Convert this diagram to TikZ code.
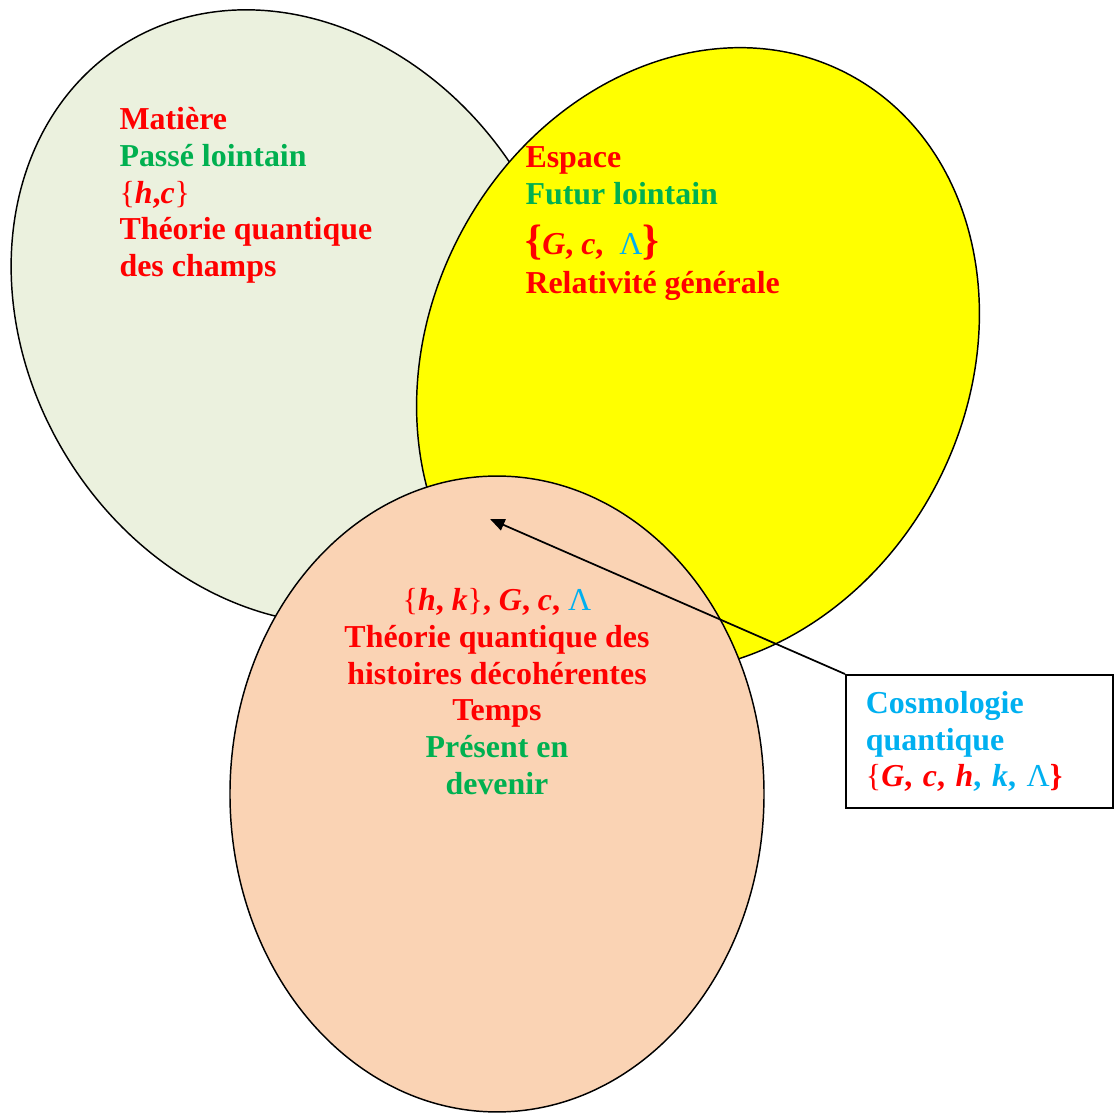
\documentclass[tikz,border=0pt]{standalone}
\usepackage{fontspec}
\setmainfont{Liberation Serif}
\usetikzlibrary{positioning,shapes.geometric,arrows.meta}
\definecolor{rouge}{HTML}{FF0000}
\definecolor{vert}{HTML}{00B050}
\definecolor{bleu}{HTML}{00B0F0}
\definecolor{jaune}{RGB}{255,255,0}
\definecolor{vertpale}{HTML}{EBF1DE}
\definecolor{peche}{HTML}{FAD3B4}

\begin{document}
\begin{tikzpicture}[
        x=0.376pt, y=-0.376pt,
        zone/.style={ellipse, draw, line width=0.55pt, inner sep=0pt},
        texte/.style={font=\fontsize{12}{13.8}\selectfont\bfseries, inner sep=0pt},
        boite/.style={draw, fill=white, line width=0.75pt, text width=85.4pt, minimum height=50pt, inner xsep=7.5pt, align=left, font=\fontsize{12}{13.8}\selectfont\bfseries},
        fleche/.style={-{Triangle[length=5.5pt,width=4.5pt]}, line width=0.65pt}
    ]
        \useasboundingbox (0,0) rectangle (1118,1113);

        % Ellipses
        \node[zone, fill=vertpale, minimum width=241.4pt, minimum height=200pt, rotate=-58.7] (matiere) at (293,317) {};
        \node[zone, fill=jaune, minimum width=242.9pt, minimum height=202.3pt, rotate=62.5] (espace) at (698,360) {};
        \node[zone, fill=peche, minimum width=200.8pt, minimum height=239.1pt] (temps) at (497,794) {};

        % Texts
        \node[texte, anchor=north west, align=left] (txtmatiere) at (119,107) {%
            \textcolor{rouge}{Matière}\\
            \textcolor{vert}{Passé lointain}\\
            \textcolor{rouge}{{\mdseries\{}\textit{h},\textit{c}{\mdseries\}}}\\
            \textcolor{rouge}{Théorie quantique}\\
            \textcolor{rouge}{des champs}};
        \node[texte, anchor=north west, align=left] (txtespace) at (525,146) {%
            \textcolor{rouge}{Espace}\\
            \textcolor{vert}{Futur lointain}\\[5pt]
            \textcolor{rouge}{{\fontsize{16}{16}\selectfont\{}\textit{G}, \textit{c}, } \textcolor{bleu}{\mdseries Λ}\textcolor{rouge}{{\fontsize{16}{16}\selectfont\}}}\\[1pt]
            \textcolor{rouge}{Relativité générale}};
        \node[texte, anchor=north, align=center] (txttemps) at (497,588) {%
            \textcolor{rouge}{{\mdseries\{}\textit{h}, \textit{k}{\mdseries\}}, \textit{G}, \textit{c},} \textcolor{bleu}{\mdseries Λ}\\
            \textcolor{rouge}{Théorie quantique des}\\
            \textcolor{rouge}{histoires décohérentes}\\
            \textcolor{rouge}{Temps}\\
            \textcolor{vert}{Présent en}\\
            \textcolor{vert}{devenir}};

        % Box and arrow
        \node[boite] (cosmo) at (979.5,741.5) {%
            \textcolor{bleu}{Cosmologie}\\
            \textcolor{bleu}{quantique}\\
            \textcolor{rouge}{{\mdseries\{}\textit{G}, \textit{c}, \textit{h}}\textcolor{bleu}{, \textit{k}, {\mdseries Λ}}\textcolor{rouge}{\}}};
        \coordinate (pointe) at (490,519);
        \draw[fleche] (cosmo.north west) -- (pointe);
    \end{tikzpicture}
\end{document}
